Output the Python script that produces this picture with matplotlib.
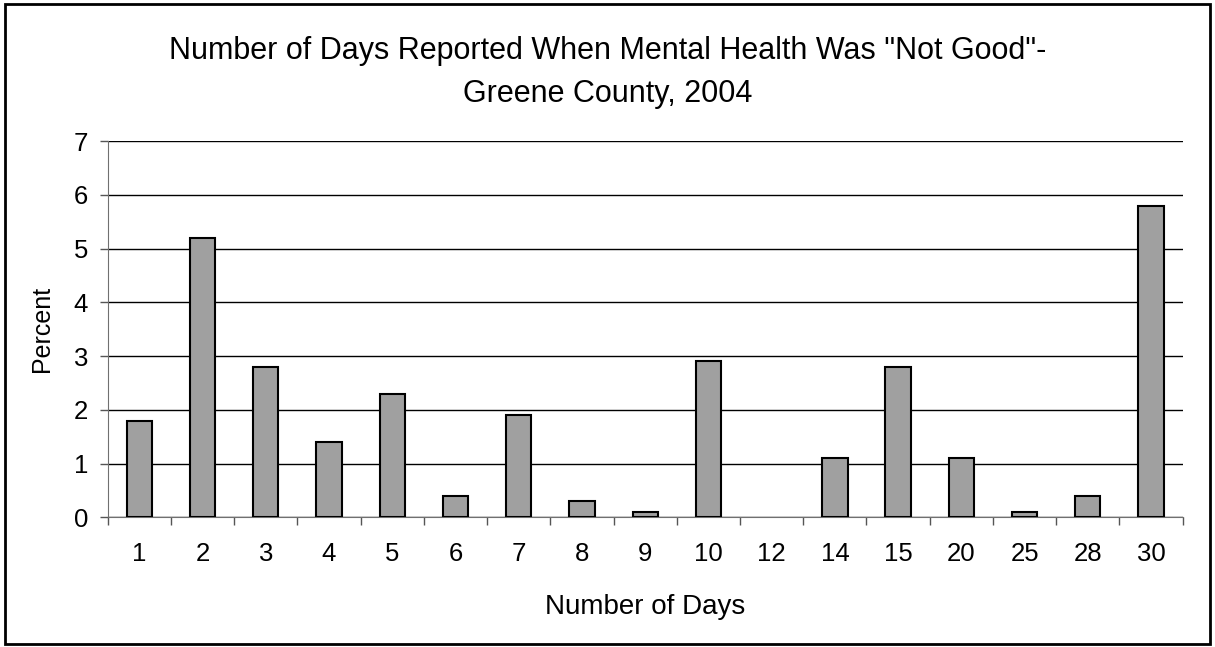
import matplotlib
matplotlib.use("Agg")
import matplotlib.pyplot as plt
from matplotlib.patches import Rectangle
import numpy as np

plt.rcParams['font.family'] = ['Liberation Sans', 'DejaVu Sans']

days = ["1", "2", "3", "4", "5", "6", "7", "8", "9", "10", "12", "14", "15", "20", "25", "28", "30"]
percent = [1.8, 5.2, 2.8, 1.4, 2.3, 0.4, 1.9, 0.3, 0.1, 2.9, 0.0, 1.1, 2.8, 1.1, 0.1, 0.4, 5.8]

fig = plt.figure(figsize=(12.15, 6.47), dpi=100)
ax = fig.add_axes([0.0886, 0.2005, 0.9734 - 0.0886, 0.782 - 0.2005])

x = np.arange(len(days))
edges = ["black" if v > 0 else "none" for v in percent]
ax.bar(x, percent, width=0.4, color="#A0A0A0", edgecolor=edges, linewidth=1.5, zorder=3)

ax.set_xlim(-0.5, len(days) - 0.5)
ax.set_ylim(0, 7)
ax.set_yticks(range(0, 8))
ax.yaxis.grid(True, color="black", linewidth=1.0, zorder=0)
ax.set_axisbelow(True)

ax.set_xticks(x)
ax.set_xticklabels(days)
ax.set_xticks(np.arange(-0.5, len(days)), minor=True)
ax.tick_params(axis='x', which='major', length=0, pad=18, labelsize=18.5)
ax.tick_params(axis='x', which='minor', length=6, width=1, color="#555555", direction='out')
ax.tick_params(axis='y', length=6, width=1, color="#555555", direction='out', labelsize=18.5, pad=8)

for s in ["top", "right"]:
    ax.spines[s].set_visible(False)
ax.spines["left"].set_color("#707070")
ax.spines["bottom"].set_color("#707070")

ax.set_xlabel("Number of Days", fontsize=20, labelpad=20)
ax.set_ylabel("Percent", fontsize=18, labelpad=14)

fig.text(0.5, 1 - 51 / 647, 'Number of Days Reported When Mental Health Was "Not Good"-',
         ha='center', va='center', fontsize=22)
fig.text(0.5, 1 - 94 / 647, 'Greene County, 2004',
         ha='center', va='center', fontsize=22)

fig.patches.append(Rectangle((0.004, 0.004), 0.992, 0.99, transform=fig.transFigure,
                             fill=False, edgecolor="black", linewidth=2))

fig.savefig("out.png", dpi=100)
